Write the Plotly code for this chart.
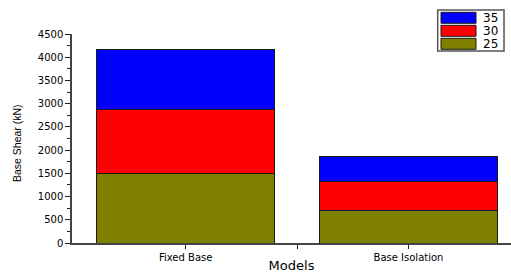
import plotly.graph_objects as go

models = ["Fixed Base", "Base Isolation"]
series_names = ["25", "30", "35"]
values_25 = [1500, 710]
values_30 = [1375, 610]
values_35 = [1295, 545]
colors = ["#808000", "#FF0000", "#0000FF"]
y_ticks = [0, 500, 1000, 1500, 2000, 2500, 3000, 3500, 4000, 4500]

W, H = 511, 273
ML, MR, MT, MB = 72, 0, 34, 30
PW, PH = W - ML - MR, H - MT - MB


def px(x):
    return (x - ML) / PW


def py(y):
    return (H - MB - y) / PH


xpos = list(range(len(models)))
fig = go.Figure()
for name, vals, col in zip(series_names, [values_25, values_30, values_35], colors):
    fig.add_trace(go.Bar(x=xpos, y=vals, name=name, marker=dict(color=col, line=dict(color="#1a1a1a", width=1)),
                         showlegend=False))

TICKFONT = dict(family="DejaVu Sans", size=10, color="#000")
fig.update_layout(
    width=W, height=H, margin=dict(l=ML, r=MR, t=MT, b=MB),
    barmode="stack", bargap=0.2,
    plot_bgcolor="white", paper_bgcolor="white",
    xaxis=dict(range=[-0.51, 1.46], tickvals=xpos, ticktext=models, showgrid=False, zeroline=False,
               showline=True, linecolor="#444", linewidth=1.5, ticks="outside", ticklen=4, tickcolor="#222",
               tickfont=TICKFONT,
               minor=dict(tickvals=[0.5], ticks="outside", ticklen=4, tickcolor="#222"),
               title=dict(text="Models", font=dict(family="DejaVu Sans", size=13, color="#000"), standoff=1)),
    yaxis=dict(range=[0, 4500], tickvals=y_ticks, showgrid=False, zeroline=False, showline=True, linecolor="#444",
               linewidth=1.5, ticks="outside", ticklen=5, tickcolor="#222", tickfont=TICKFONT,
               minor=dict(dtick=250, ticks="outside", ticklen=3, tickcolor="#222")),
)

# y-axis title
fig.add_annotation(text="Base Shear (kN)", xref="paper", yref="paper", x=px(17), y=py(143), textangle=-90,
                   xanchor="center", yanchor="middle", showarrow=False,
                   font=dict(family="Liberation Sans", size=10.5, color="#000"))

# legend (box, swatches, labels)
fig.add_shape(type="rect", xref="paper", yref="paper", x0=px(437.7), x1=px(504), y0=py(51), y1=py(10),
              line=dict(color="#555", width=1.5), fillcolor="white")
sw_top = [12.3, 25.3, 38.3]
for i, (name, col) in enumerate(zip(series_names[::-1], colors[::-1])):
    t = sw_top[i]
    fig.add_shape(type="rect", xref="paper", yref="paper", x0=px(441), x1=px(476), y0=py(t + 11), y1=py(t),
                  line=dict(color="#1a1a1a", width=1), fillcolor=col)
    fig.add_annotation(text=name, xref="paper", yref="paper", x=px(481), y=py(t + 5.5), xanchor="left",
                       yanchor="middle", showarrow=False, font=dict(family="DejaVu Sans", size=12, color="#000"))

fig.write_html("out.html", config={"displayModeBar": False},
               post_script="document.body.style.margin='0';document.body.style.overflow='hidden';")
